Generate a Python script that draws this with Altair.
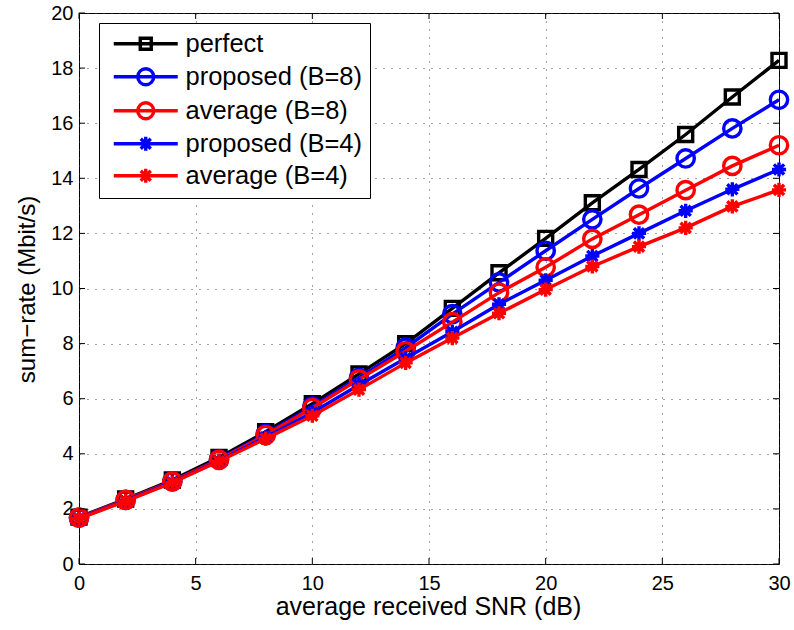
import altair as alt
import pandas as pd

# ---------------- data ----------------
snr = [0, 2, 4, 6, 8, 10, 12, 14, 16, 18, 20, 22, 24, 26, 28, 30]
perfect = [1.70, 2.36, 3.05, 3.87, 4.80, 5.82, 6.90, 8.00, 9.28, 10.57, 11.82, 13.11, 14.32, 15.59, 16.95, 18.28]
proposed_b8 = [1.68, 2.33, 3.00, 3.80, 4.72, 5.72, 6.76, 7.85, 9.07, 10.22, 11.37, 12.51, 13.63, 14.72, 15.81, 16.85]
average_b8 = [1.68, 2.33, 3.00, 3.78, 4.68, 5.66, 6.70, 7.72, 8.78, 9.85, 10.77, 11.80, 12.68, 13.57, 14.45, 15.20]
proposed_b4 = [1.66, 2.30, 2.97, 3.75, 4.60, 5.50, 6.50, 7.47, 8.43, 9.43, 10.30, 11.18, 12.00, 12.82, 13.60, 14.32]
average_b4 = [1.65, 2.28, 2.95, 3.73, 4.55, 5.38, 6.33, 7.30, 8.20, 9.10, 9.96, 10.80, 11.52, 12.20, 12.98, 13.58]

series_names = ["perfect", "proposed (B=8)", "average (B=8)", "proposed (B=4)", "average (B=4)"]
series_values = [perfect, proposed_b8, average_b8, proposed_b4, average_b4]
series_colors = ["#000000", "#0000ff", "#ff0000", "#0000ff", "#ff0000"]
series_markers = ["square", "circle", "circle", "asterisk", "asterisk"]

x_ticks = [0, 5, 10, 15, 20, 25, 30]
y_ticks = [0, 2, 4, 6, 8, 10, 12, 14, 16, 18, 20]

# ---------------- styling ----------------
W, H = 700, 551
FONT = "Liberation Sans"
LW = 3.4

plot_shapes = {
    "square": "square",
    "circle": "circle",
    "asterisk": "M0,-1V1M-1,0H1M-0.72,-0.72L0.72,0.72M-0.72,0.72L0.72,-0.72",
}
plot_sizes = {"square": 196, "circle": 300, "asterisk": 200}

# legend symbols: a short line with the marker in its middle (unit = 10 px)
legend_shapes = {
    "square": "M-0.6,0H5.8M2.05,-0.55H3.15V0.55H2.05Z",
    "circle": "M-0.6,0H5.8M1.8,0A0.8,0.8 0 1,0 3.4,0A0.8,0.8 0 1,0 1.8,0",
    "asterisk": "M-0.6,0H5.8M2.6,-0.7V0.7M1.9,0H3.3M2.1,-0.5L3.1,0.5M2.1,0.5L3.1,-0.5",
}

rows = []
for name, vals in zip(series_names, series_values):
    for s, v in zip(snr, vals):
        rows.append({"snr": s, "rate": v, "series": name})
df = pd.DataFrame(rows)

x_scale = alt.Scale(domain=[0, 30], nice=False, zero=False)
y_scale = alt.Scale(domain=[0, 20], nice=False, zero=False)

GRID_DASH = [1, 7]
GRID_COLOR = "#444444"

x_enc = alt.X(
    "snr:Q",
    scale=x_scale,
    axis=alt.Axis(
        values=x_ticks, title="average received SNR (dB)", grid=True, ticks=False, domain=False,
        labelFont=FONT, labelFontSize=20, labelColor="black", labelPadding=9,
        titleFont=FONT, titleFontSize=25, titleFontWeight="normal", titleColor="black",
        titleX=349, titleY=50, titleBaseline="alphabetic",
        gridDash=GRID_DASH, gridColor=GRID_COLOR, gridWidth=1, gridOpacity=1,
        labelFlush=False,
    ),
)
y_enc = alt.Y(
    "rate:Q",
    scale=y_scale,
    axis=alt.Axis(
        values=y_ticks, title="sum\u2212rate (Mbit/s)", grid=True, ticks=False, domain=False,
        labelFont=FONT, labelFontSize=20, labelColor="black", labelPadding=6,
        titleFont=FONT, titleFontSize=24, titleFontWeight="normal", titleColor="black",
        titleX=-45, titleY=276, titleAngle=270, titleBaseline="alphabetic", titleAlign="center",
        gridDash=GRID_DASH, gridColor=GRID_COLOR, gridWidth=1, gridOpacity=1,
        labelFlush=False,
    ),
)

layers = []
for name, color, marker in zip(series_names, series_colors, series_markers):
    base = alt.Chart(df).transform_filter(alt.datum.series == name)
    layers.append(
        base.mark_line(color=color, strokeWidth=LW).encode(x=x_enc, y=y_enc)
    )
    layers.append(
        base.mark_point(
            shape=plot_shapes[marker], size=plot_sizes[marker], filled=False,
            color=color, strokeWidth=LW, opacity=1,
        ).encode(x=x_enc, y=y_enc)
    )

# inward tick marks on all four sides
xt = pd.DataFrame({"snr": x_ticks})
yt = pd.DataFrame({"rate": y_ticks})
tick_len = 6
layers.append(alt.Chart(xt).mark_rule(color="black", strokeWidth=1).encode(
    x=x_enc, y=alt.value(H), y2=alt.value(H - tick_len)))
layers.append(alt.Chart(xt).mark_rule(color="black", strokeWidth=1).encode(
    x=x_enc, y=alt.value(0), y2=alt.value(tick_len)))
layers.append(alt.Chart(yt).mark_rule(color="black", strokeWidth=1).encode(
    y=y_enc, x=alt.value(0), x2=alt.value(tick_len)))
layers.append(alt.Chart(yt).mark_rule(color="black", strokeWidth=1).encode(
    y=y_enc, x=alt.value(W), x2=alt.value(W - tick_len)))

# legend (built from an empty layer so only the legend shows)
leg = alt.Legend(
    title=None, orient="none", legendX=20, legendY=10,
    labelFont=FONT, labelFontSize=25.5, labelColor="black", labelLimit=500, labelOffset=53,
    symbolSize=400, symbolStrokeWidth=LW, rowPadding=3, padding=8,
    strokeColor="black", fillColor="white", symbolOpacity=1,
)
legend_layer = alt.Chart(df).transform_filter("false").mark_point(
    filled=False, size=400, strokeWidth=LW, opacity=1
).encode(
    x=x_enc,
    y=y_enc,
    color=alt.Color("series:N", scale=alt.Scale(domain=series_names, range=series_colors), legend=leg),
    shape=alt.Shape("series:N",
                    scale=alt.Scale(domain=series_names, range=[legend_shapes[m] for m in series_markers]),
                    legend=leg),
)
layers.append(legend_layer)

chart = alt.layer(*layers).properties(
    width=W, height=H,
    autosize=alt.AutoSizeParams(type="none"),
    padding={"left": 79, "top": 13, "right": 15, "bottom": 66},
    background="white",
).configure_view(stroke="black", strokeWidth=1)

chart.save("out.html", embed_options={"renderer": "svg", "actions": False})
